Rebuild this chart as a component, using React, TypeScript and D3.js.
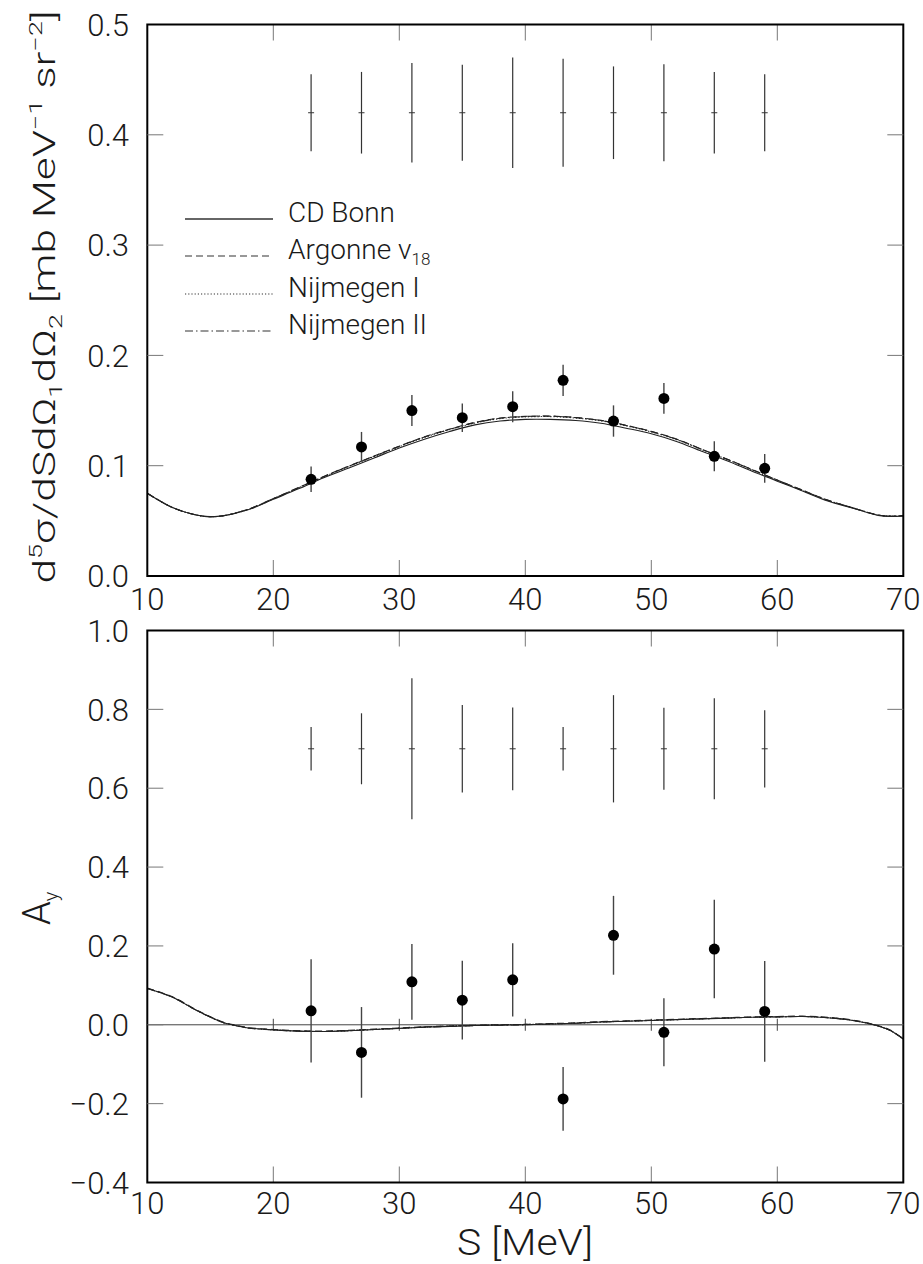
import React from "react";
import * as d3 from "d3";

// ---------- data ----------
const S_POINTS = [23, 27, 31, 35, 39, 43, 47, 51, 55, 59];
const XS_VALUES = [0.0877, 0.117, 0.150, 0.1435, 0.1535, 0.1774, 0.1405, 0.161, 0.1085, 0.0976];
const XS_ERRORS = [0.0115, 0.0136, 0.014, 0.013, 0.014, 0.0142, 0.0142, 0.0139, 0.0136, 0.013];
const XS_SYS = [0.035, 0.037, 0.045, 0.0435, 0.05, 0.049, 0.042, 0.044, 0.037, 0.035];
const XS_SYS_CENTER = 0.42;

const AY_VALUES = [0.0355, -0.07, 0.109, 0.0625, 0.114, -0.188, 0.227, -0.019, 0.192, 0.034];
const AY_ERRORS = [0.131, 0.115, 0.096, 0.1, 0.093, 0.081, 0.1, 0.086, 0.125, 0.128];
const AY_SYS = [0.055, 0.09, 0.179, 0.111, 0.105, 0.055, 0.136, 0.104, 0.128, 0.098];
const AY_SYS_CENTER = 0.7;

const XS_THEORY_S = [10, 12, 14, 15, 16, 18, 20, 22, 24, 26, 28, 30, 32, 34, 36, 38, 40, 42, 44, 46, 48, 50, 52, 54, 56, 58, 60, 62, 64, 66, 68, 69, 70];
const XS_CDBONN = [0.075, 0.062, 0.055, 0.0538, 0.0545, 0.06, 0.0695, 0.079, 0.089, 0.098, 0.107, 0.116, 0.124, 0.131, 0.137, 0.1405, 0.142, 0.142, 0.141, 0.1385, 0.134, 0.129, 0.122, 0.113, 0.1045, 0.095, 0.086, 0.077, 0.068, 0.0615, 0.055, 0.054, 0.0545];
const XS_AV18 = [0.075, 0.062, 0.055, 0.0538, 0.0546, 0.0605, 0.0702, 0.0802, 0.0902, 0.0997, 0.1087, 0.1177, 0.1262, 0.1332, 0.1392, 0.1432, 0.1447, 0.145, 0.1437, 0.1411, 0.1366, 0.1311, 0.1241, 0.115, 0.106, 0.0965, 0.087, 0.0778, 0.0688, 0.0618, 0.0553, 0.0543, 0.0547];
const XS_NIJM1 = [0.075, 0.062, 0.055, 0.0538, 0.0545, 0.0603, 0.0699, 0.0798, 0.0898, 0.0993, 0.1083, 0.1173, 0.1257, 0.1327, 0.1387, 0.1427, 0.1442, 0.1445, 0.1432, 0.1406, 0.1361, 0.1306, 0.1236, 0.1146, 0.1057, 0.0962, 0.0867, 0.0776, 0.0686, 0.0617, 0.0552, 0.0542, 0.0546];
const XS_NIJM2 = [0.075, 0.062, 0.055, 0.0538, 0.0546, 0.0604, 0.0701, 0.08, 0.09, 0.0996, 0.1086, 0.1176, 0.126, 0.133, 0.139, 0.143, 0.1446, 0.1449, 0.1436, 0.141, 0.1365, 0.131, 0.124, 0.1149, 0.1059, 0.0964, 0.0869, 0.0777, 0.0687, 0.0618, 0.0553, 0.0543, 0.0547];

const AY_THEORY_S = [10, 12, 14, 16, 17, 18, 20, 22, 24, 26, 28, 30, 32, 34, 36, 38, 40, 42, 44, 46, 48, 50, 52, 54, 56, 58, 60, 62, 64, 66, 68, 69, 70];
const AY_CDBONN = [0.092, 0.07, 0.035, 0.006, -0.002, -0.008, -0.013, -0.016, -0.017, -0.015, -0.012, -0.009, -0.006, -0.004, -0.002, -0.001, 0.0, 0.002, 0.004, 0.007, 0.009, 0.011, 0.013, 0.015, 0.017, 0.019, 0.02, 0.021, 0.018, 0.011, -0.003, -0.015, -0.036];
const AY_AV18 = [0.093, 0.071, 0.036, 0.007, -0.001, -0.007, -0.012, -0.015, -0.016, -0.014, -0.011, -0.008, -0.005, -0.003, -0.001, 0.0, 0.001, 0.003, 0.005, 0.008, 0.01, 0.012, 0.014, 0.016, 0.018, 0.02, 0.021, 0.022, 0.019, 0.012, -0.002, -0.014, -0.035];
const AY_NIJM1 = [0.092, 0.07, 0.035, 0.006, -0.002, -0.008, -0.013, -0.016, -0.017, -0.015, -0.012, -0.009, -0.006, -0.003, -0.002, 0.0, 0.001, 0.002, 0.004, 0.007, 0.009, 0.011, 0.013, 0.015, 0.017, 0.019, 0.02, 0.021, 0.018, 0.011, -0.003, -0.015, -0.037];
const AY_NIJM2 = [0.092, 0.07, 0.035, 0.006, -0.002, -0.008, -0.013, -0.016, -0.017, -0.015, -0.012, -0.009, -0.006, -0.004, -0.002, -0.001, 0.0, 0.002, 0.004, 0.007, 0.009, 0.011, 0.013, 0.015, 0.017, 0.019, 0.02, 0.021, 0.018, 0.011, -0.003, -0.015, -0.036];

const X_TICKS = [10, 20, 30, 40, 50, 60, 70];
const XS_TICKS = [0.0, 0.1, 0.2, 0.3, 0.4, 0.5];
const AY_TICKS = [-0.4, -0.2, 0.0, 0.2, 0.4, 0.6, 0.8, 1.0];

const LEGEND = [
  { name: "CD Bonn", sub: "", dash: "" },
  { name: "Argonne v", sub: "18", dash: "7,4" },
  { name: "Nijmegen I", sub: "", dash: "1.2,2" },
  { name: "Nijmegen II", sub: "", dash: "8,3,1.5,3" },
];

// ---------- layout ----------
const W = 923;
const H = 1264;
const X0 = 147.3;
const X1 = 903.3;
const FONT = "Roboto, 'Liberation Sans', Arial, sans-serif";
const FW = 300;
const TXT = "#1a1a1a";

const x = d3.scaleLinear().domain([10, 70]).range([X0, X1]);
const yTop = d3.scaleLinear().domain([0, 0.5]).range([576, 24.5]);
const yBot = d3.scaleLinear().domain([-0.4, 1.0]).range([1182.5, 630.5]);

function fmt(v: number) {
  const s = v.toFixed(1);
  return v < 0 ? "\u2212" + s.slice(1) : s;
}

function Frame({ y }: { y: d3.ScaleLinear<number, number> }) {
  const [yb, yt] = y.range();
  return (
    <g>
      {X_TICKS.slice(1, -1).map((t) => (
        <g key={"xt" + t}>
          <line x1={x(t)} x2={x(t)} y1={yb} y2={yb - 16} stroke="#777" strokeWidth={1} />
          <line x1={x(t)} x2={x(t)} y1={yt} y2={yt + 16} stroke="#777" strokeWidth={1} />
        </g>
      ))}
      <rect x={X0} y={yt} width={X1 - X0} height={yb - yt} fill="none" stroke="#000" strokeWidth={2} />
    </g>
  );
}

function YTicks({ y, ticks }: { y: d3.ScaleLinear<number, number>; ticks: number[] }) {
  const [lo, hi] = y.domain();
  return (
    <g>
      {ticks
        .filter((t) => t > lo + 1e-9 && t < hi - 1e-9)
        .map((t) => (
          <g key={"yt" + t}>
            <line x1={X0} x2={X0 + 16} y1={y(t)} y2={y(t)} stroke="#777" strokeWidth={1} />
            <line x1={X1} x2={X1 - 16} y1={y(t)} y2={y(t)} stroke="#777" strokeWidth={1} />
          </g>
        ))}
      {ticks.map((t) => (
        <text
          key={"yl" + t}
          x={129}
          y={y(t)}
          dy="0.36em"
          textAnchor="end"
          fontSize={31}
          fontFamily={FONT}
          fontWeight={FW}
          fill={TXT}
        >
          {fmt(t)}
        </text>
      ))}
    </g>
  );
}

function XLabels({ yBase }: { yBase: number }) {
  return (
    <g>
      {X_TICKS.map((t) => (
        <text key={"xl" + t} x={x(t)} y={yBase} textAnchor="middle" fontSize={31} fontFamily={FONT} fontWeight={FW} fill={TXT}>
          {t}
        </text>
      ))}
    </g>
  );
}

function Points({
  y,
  values,
  errors,
}: {
  y: d3.ScaleLinear<number, number>;
  values: number[];
  errors: number[];
}) {
  return (
    <g>
      {S_POINTS.map((s, i) => (
        <g key={"p" + s}>
          <line x1={x(s)} x2={x(s)} y1={y(values[i] - errors[i])} y2={y(values[i] + errors[i])} stroke="#444" strokeWidth={1.4} />
          <circle cx={x(s)} cy={y(values[i])} r={5.5} fill="#000" />
        </g>
      ))}
    </g>
  );
}

function SysBars({ y, center, sys }: { y: d3.ScaleLinear<number, number>; center: number; sys: number[] }) {
  return (
    <g>
      {S_POINTS.map((s, i) => (
        <g key={"s" + s}>
          <line x1={x(s)} x2={x(s)} y1={y(center - sys[i])} y2={y(center + sys[i])} stroke="#333" strokeWidth={1.2} />
          <line x1={x(s) - 3} x2={x(s) + 3} y1={y(center)} y2={y(center)} stroke="#333" strokeWidth={1} />
        </g>
      ))}
    </g>
  );
}

function Curves({ y, sGrid, series }: { y: d3.ScaleLinear<number, number>; sGrid: number[]; series: number[][] }) {
  const line = d3
    .line<number>()
    .x((_, i) => x(sGrid[i]))
    .y((v) => y(v))
    .curve(d3.curveCatmullRom);
  return (
    <g fill="none">
      {series.map((vals, k) => (
        <path key={"c" + k} d={line(vals) || ""} stroke="#222" strokeWidth={1.1} strokeDasharray={LEGEND[k].dash || undefined} />
      ))}
    </g>
  );
}

export default function App() {
  const zeroY = yBot(0);
  return (
    <div style={{ position: "absolute", left: 0, top: 0 }}>
      <svg width={W} height={H} viewBox={`0 0 ${W} ${H}`} style={{ display: "block", background: "#fff" }}>
        <rect x={0} y={0} width={W} height={H} fill="#fff" />

        {/* ===== top panel ===== */}
        <Curves y={yTop} sGrid={XS_THEORY_S} series={[XS_CDBONN, XS_AV18, XS_NIJM1, XS_NIJM2]} />
        <SysBars y={yTop} center={XS_SYS_CENTER} sys={XS_SYS} />
        <Points y={yTop} values={XS_VALUES} errors={XS_ERRORS} />
        <Frame y={yTop} />
        <YTicks y={yTop} ticks={XS_TICKS} />
        <XLabels yBase={610} />

        {/* legend */}
        {LEGEND.map((l, i) => {
          const ly = [219, 256, 294, 331][i];
          return (
            <g key={"lg" + i}>
              <line x1={185} x2={273} y1={ly} y2={ly} stroke="#333" strokeWidth={i === 0 ? 1.6 : 1.1} strokeDasharray={l.dash || undefined} />
              <text x={288} y={ly + 2.5} fontSize={28} fontFamily={FONT} fontWeight={FW} fill={TXT}>
                {l.name}
                {l.sub ? (
                  <tspan fontSize={17} dy={6} fill={TXT}>
                    {l.sub}
                  </tspan>
                ) : null}
              </text>
            </g>
          );
        })}

        {/* top y label */}
        <text
          transform="translate(55,297) rotate(-90)"
          textAnchor="middle"
          fontSize={31}
          fontFamily={FONT}
          fontWeight={FW}
          fill={TXT}
          textLength={573}
          lengthAdjust="spacingAndGlyphs"
        >
          d<tspan fontSize={19} dy={-13}>5</tspan>
          <tspan dy={13}>σ/dSdΩ</tspan>
          <tspan fontSize={19} dy={7}>1</tspan>
          <tspan dy={-7}>dΩ</tspan>
          <tspan fontSize={19} dy={7}>2</tspan>
          <tspan dy={-7}> [mb MeV</tspan>
          <tspan fontSize={19} dy={-13}>−1</tspan>
          <tspan dy={13}> sr</tspan>
          <tspan fontSize={19} dy={-13}>−2</tspan>
          <tspan dy={13}>]</tspan>
        </text>

        {/* ===== bottom panel ===== */}
        <line x1={X0} x2={X1} y1={zeroY} y2={zeroY} stroke="#444" strokeWidth={1} />
        {X_TICKS.slice(1, -1).map((t) => (
          <line key={"z" + t} x1={x(t)} x2={x(t)} y1={zeroY - 6} y2={zeroY + 6} stroke="#444" strokeWidth={1} />
        ))}
        <Curves y={yBot} sGrid={AY_THEORY_S} series={[AY_CDBONN, AY_AV18, AY_NIJM1, AY_NIJM2]} />
        <SysBars y={yBot} center={AY_SYS_CENTER} sys={AY_SYS} />
        <Points y={yBot} values={AY_VALUES} errors={AY_ERRORS} />
        <Frame y={yBot} />
        <YTicks y={yBot} ticks={AY_TICKS} />
        <XLabels yBase={1214} />

        {/* bottom y label */}
        <text transform="translate(50,925) rotate(-90)" fontSize={38} fontFamily={FONT} fontWeight={FW} fill={TXT}>
          A<tspan fontSize={20} dy={8}>y</tspan>
        </text>

        {/* x label */}
        <text x={525} y={1255} textAnchor="middle" fontSize={37} fontFamily={FONT} fontWeight={FW} fill={TXT} textLength={136} lengthAdjust="spacingAndGlyphs">
          S [MeV]
        </text>
      </svg>
    </div>
  );
}
